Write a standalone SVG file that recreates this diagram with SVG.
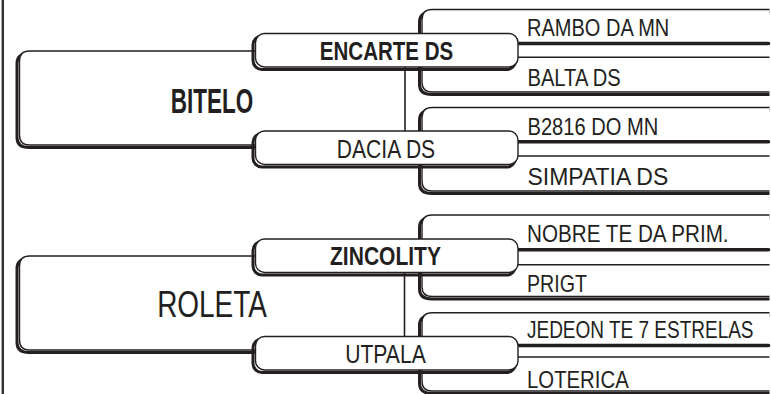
<svg xmlns="http://www.w3.org/2000/svg" width="771" height="394" viewBox="0 0 771 394">
<style>
.sh{fill:none;stroke:#231f20;stroke-width:3}
.mn{fill:#fff;stroke:#231f20;stroke-width:1.4}
.thk{stroke:#231f20;stroke-width:3.6;stroke-linecap:round}
.thn{stroke:#231f20;stroke-width:1.4}
.con{stroke:#231f20;stroke-width:1.6;fill:none}
text{font-family:"Liberation Sans Narrow","Liberation Sans",Arial,sans-serif;fill:#231f20}
.r{font-size:24.5px}
.m{font-size:26px;text-anchor:middle}
.b{font-weight:bold}
.big{font-size:35px;text-anchor:middle}
</style>
<rect x="0" y="0" width="771" height="394" fill="#fff"/>
<line x1="2.8" y1="0" x2="2.8" y2="394" stroke="#333" stroke-width="2.4"/>

<!-- main horse boxes -->
<g id="bitelo">
<path class="sh" d="M258,53.5 H29 Q17,53.5 17,63.5 V137.5 Q17,147.5 29,147.5 H258"/>
<path class="mn" d="M258,51 H29.5 Q19.5,51 19.5,61 V135 Q19.5,145 29.5,145 H258"/>
<text class="big b" x="212" y="113" textLength="82.5" lengthAdjust="spacingAndGlyphs">BITELO</text>
</g>
<g id="roleta">
<path class="sh" d="M258,258.5 H29 Q17,258.5 17,268.5 V342.5 Q17,352.5 29,352.5 H258"/>
<path class="mn" d="M258,256 H29.5 Q19.5,256 19.5,266 V340 Q19.5,350 29.5,350 H258"/>
<text class="big" x="212" y="316.7" style="font-size:36px" textLength="109.7" lengthAdjust="spacingAndGlyphs">ROLETA</text>
</g>

<!-- right-hand grandparents frames -->
<g id="frame-encarte">
<path class="sh" d="M769.5,12 H432 Q419.5,12 419.5,22 V84.5 Q419.5,94.5 432,94.5 H769.5"/>
<path class="mn" d="M769.5,9.5 H432 Q422,9.5 422,19.5 V82 Q422,92 432,92 H769.5"/>
<line class="thk" x1="500" y1="43.5" x2="768.5" y2="43.5"/>
<line class="thn" x1="500" y1="57.3" x2="769.5" y2="57.3"/>
</g>
<g id="frame-dacia">
<path class="sh" d="M769.5,110 H432 Q419.5,110 419.5,120 V183.5 Q419.5,193.5 432,193.5 H769.5"/>
<path class="mn" d="M769.5,107.5 H432 Q422,107.5 422,117.5 V181 Q422,191 432,191 H769.5"/>
<line class="thk" x1="500" y1="141.7" x2="768.5" y2="141.7"/>
<line class="thn" x1="500" y1="156" x2="769.5" y2="156"/>
</g>
<g id="frame-zincolity">
<path class="sh" d="M769.5,217.5 H432 Q419.5,217.5 419.5,227.5 V289 Q419.5,299 432,299 H769.5"/>
<path class="mn" d="M769.5,215 H432 Q422,215 422,225 V286.5 Q422,296.5 432,296.5 H769.5"/>
<line class="thk" x1="500" y1="249.8" x2="768.5" y2="249.8"/>
<line class="thn" x1="500" y1="264.8" x2="769.5" y2="264.8"/>
</g>
<g id="frame-utpala">
<path class="sh" d="M769.5,315.2 H432 Q419.5,315.2 419.5,325.2 V383.5 Q419.5,393.5 432,393.5 H769.5"/>
<path class="mn" d="M769.5,312.7 H432 Q422,312.7 422,322.7 V381 Q422,391 432,391 H769.5"/>
<line class="thk" x1="500" y1="345.5" x2="768.5" y2="345.5"/>
<line class="thn" x1="500" y1="357" x2="769.5" y2="357"/>
</g>

<g id="connectors">
<line class="con" x1="405" y1="66" x2="405" y2="132"/>
<line class="con" x1="404.5" y1="272" x2="404.5" y2="337.5"/>
</g>

<!-- parents -->
<g id="encarte-ds">
<rect class="sh" x="253" y="36" width="262.5" height="33.5" rx="9"/>
<rect class="mn" x="255.5" y="33.5" width="262.5" height="33.5" rx="9"/>
<text class="m b" x="386.5" y="60" textLength="133.3" lengthAdjust="spacingAndGlyphs">ENCARTE DS</text>
</g>
<g id="dacia-ds">
<rect class="sh" x="253" y="133.5" width="262.5" height="33.5" rx="9"/>
<rect class="mn" x="255.5" y="131" width="262.5" height="33.5" rx="9"/>
<text class="m" x="386" y="158.3" textLength="98.3" lengthAdjust="spacingAndGlyphs">DACIA DS</text>
</g>
<g id="zincolity">
<rect class="sh" x="253" y="241.5" width="262.5" height="33.5" rx="9"/>
<rect class="mn" x="255.5" y="239" width="262.5" height="33.5" rx="9"/>
<text class="m b" x="385.5" y="265" textLength="111" lengthAdjust="spacingAndGlyphs">ZINCOLITY</text>
</g>
<g id="utpala">
<rect class="sh" x="253" y="339" width="262.5" height="33.5" rx="9"/>
<rect class="mn" x="255.5" y="336.5" width="262.5" height="33.5" rx="9"/>
<text class="m" x="385.5" y="363.3" textLength="80.7" lengthAdjust="spacingAndGlyphs">UTPALA</text>
</g>

<!-- grandparents -->
<g id="rambo-da-mn"><text class="r" x="527" y="36" textLength="142.3" lengthAdjust="spacingAndGlyphs">RAMBO DA MN</text></g>
<g id="balta-ds"><text class="r" x="527.5" y="86" textLength="93.3" lengthAdjust="spacingAndGlyphs">BALTA DS</text></g>
<g id="b2816-do-mn"><text class="r" x="527.5" y="135" textLength="130.7" lengthAdjust="spacingAndGlyphs">B2816 DO MN</text></g>
<g id="simpatia-ds"><text class="r" x="527.5" y="185" textLength="140.7" lengthAdjust="spacingAndGlyphs">SIMPATIA DS</text></g>
<g id="nobre-te-da-prim"><text class="r" x="527" y="241.7" textLength="201.6" lengthAdjust="spacingAndGlyphs">NOBRE TE DA PRIM.</text></g>
<g id="prigt"><text class="r" x="527" y="291.7" textLength="60" lengthAdjust="spacingAndGlyphs">PRIGT</text></g>
<g id="jedeon-te-7-estrelas"><text class="r" transform="translate(527,338.3) scale(0.7757,1)" x="0" y="0">JEDEON TE 7 ESTRELAS</text></g>
<g id="loterica"><text class="r" x="527" y="388.3" textLength="101.7" lengthAdjust="spacingAndGlyphs">LOTERICA</text></g>
</svg>
